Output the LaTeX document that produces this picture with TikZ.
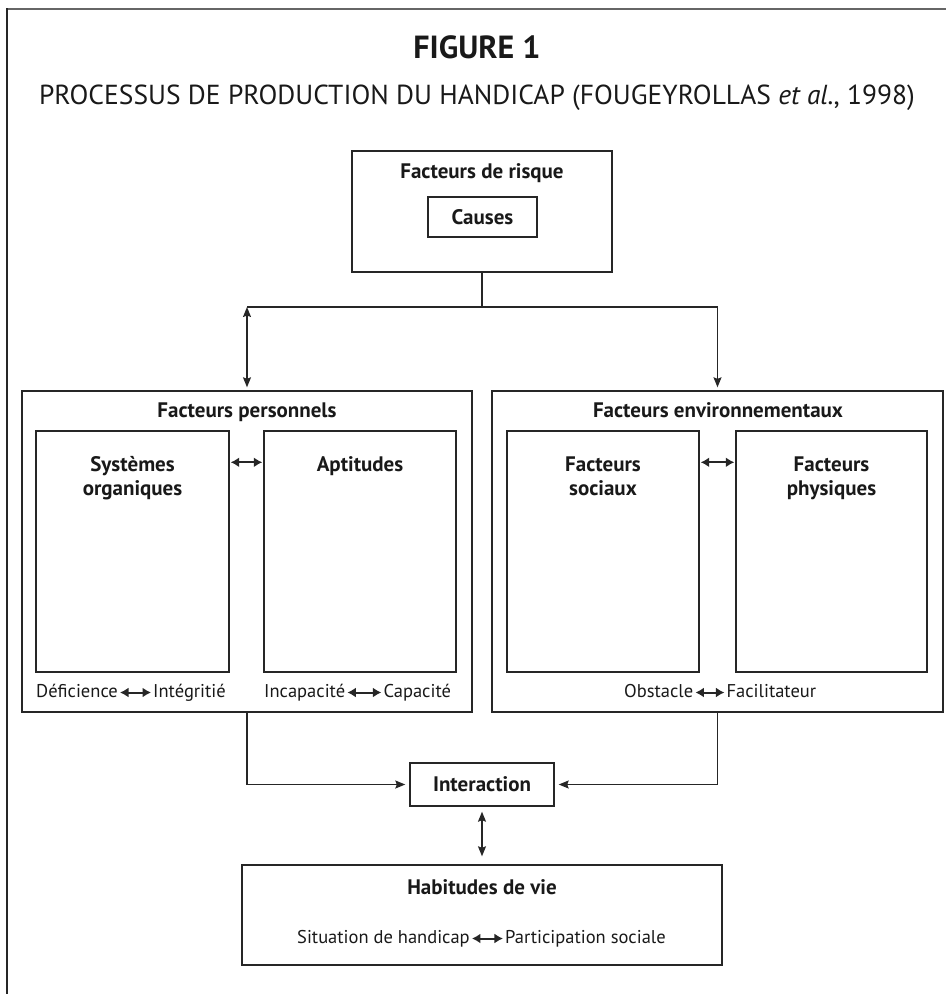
\documentclass[tikz,border=0pt]{standalone}
\usepackage{fontspec}
\setmainfont{PT Sans}
\usetikzlibrary{arrows.meta, positioning, calc}

\begin{document}
\begin{tikzpicture}[x=1pt, y=-1pt,
    box/.style={draw=black!85, line width=1.4pt, inner sep=0pt},
    titre/.style={font=\bfseries\fontsize{21}{24}\selectfont, text=black!90, align=center, inner sep=0pt},
    etiq/.style={font=\fontsize{18.5}{20}\selectfont, text=black!90, inner sep=0pt, text height=12pt, text depth=3pt},
    lien/.style={draw=black!85, line width=1.3pt},
    fl/.style={lien, -{Stealth[length=10pt, width=8pt, inset=1.5pt]}},
    dbl/.style={lien, {Stealth[length=10pt, width=8pt, inset=1.5pt]}-{Stealth[length=10pt, width=8pt, inset=1.5pt]}},
    petit/.style={lien, line width=2pt, {Latex[length=8.5pt, width=10pt]}-{Latex[length=8.5pt, width=10pt]}, shorten <=2pt, shorten >=2pt}
  ]
  \useasboundingbox (0,0) rectangle (946,994);
  \draw[line width=2.6pt, black!60] (7,9) -- (946,9);
  \draw[line width=2pt, black!85] (7,8) -- (7,994);

  \node[anchor=base, font=\bfseries\fontsize{32}{36}\selectfont, text=black!90] (figure) at (477,58) {FIGURE 1};
  \node[anchor=base, font=\fontsize{27.5}{30}\selectfont, text=black!90] (soustitre) at (477,104)
    {PROCESSUS DE PRODUCTION DU HANDICAP (FOUGEYROLLAS \textit{et al.}, 1998)};

  \node[box, minimum width=260pt, minimum height=121pt] (risque) at (482,211.5) {};
  \node[titre, anchor=base] (risque-t) at (482,178) {Facteurs de risque};
  \node[box, titre, minimum width=109pt, minimum height=40pt] (causes) at (482.5,217) {Causes};

  \node[box, minimum width=450pt, minimum height=321pt] (perso) at (247,551.5) {};
  \node[box, minimum width=451pt, minimum height=321pt] (envir) at (717.5,551.5) {};
  \node[titre, anchor=base] (perso-t) at (247,417) {Facteurs personnels};
  \node[titre, anchor=base] (envir-t) at (718,417) {Facteurs environnementaux};

  \node[box, minimum width=193pt, minimum height=241pt] (systemes) at (132.5,551.5) {};
  \node[box, minimum width=192pt, minimum height=241pt] (aptitudes) at (360,551.5) {};
  \node[box, minimum width=192pt, minimum height=241pt] (sociaux) at (603,551.5) {};
  \node[box, minimum width=191pt, minimum height=241pt] (physiques) at (831.5,551.5) {};
  \node[titre, anchor=base] (systemes-t) at (132.5,495) {Systèmes\\organiques};
  \node[titre, anchor=base] (aptitudes-t) at (360,471) {Aptitudes};
  \node[titre, anchor=base] (sociaux-t) at (603,495) {Facteurs\\sociaux};
  \node[titre, anchor=base] (physiques-t) at (831.5,495) {Facteurs\\physiques};

  \node[etiq, anchor=base west] (deficience) at (36,697) {Déficience};
  \node[etiq, right=35pt of deficience] (integrite) {Intégritié};
  \node[etiq, anchor=base west] (incapacite) at (264,697) {Incapacité};
  \node[etiq, right=38pt of incapacite] (capacite) {Capacité};
  \node[etiq, anchor=base west] (obstacle) at (624,697) {Obstacle};
  \node[etiq, right=33pt of obstacle] (facilitateur) {Facilitateur};

  \node[box, titre, minimum width=144pt, minimum height=43pt] (interaction) at (482,784.5) {Interaction};
  \node[box, minimum width=480pt, minimum height=100pt] (habitudes) at (482,915) {};
  \node[titre, anchor=base] (habitudes-t) at (482,894) {Habitudes de vie};
  \node[etiq, anchor=base west] (situation) at (297,943) {Situation de handicap};
  \node[etiq, right=35pt of situation] (participation) {Participation sociale};

  \coordinate (noeud) at (482,307);
  \draw[lien] (risque.south) -- (noeud);
  \draw[lien] (perso.north |- noeud) -- (envir.north |- noeud);
  \draw[dbl, shorten >=3pt] (perso.north |- noeud) -- (perso.north);
  \draw[fl, shorten >=3pt] (envir.north |- noeud) -- (envir.north);

  \draw[petit, shorten <=1pt, shorten >=1pt] ($(systemes.north east)+(0,32)$) -- ($(aptitudes.north west)+(0,32)$);
  \draw[petit, shorten <=1pt, shorten >=1pt] ($(sociaux.north east)+(0,32)$) -- ($(physiques.north west)+(0,32)$);
  \draw[petit] (deficience) -- (integrite);
  \draw[petit] (incapacite) -- (capacite);
  \draw[petit] (obstacle) -- (facilitateur);
  \draw[petit] (situation) -- (participation);

  \draw[fl, shorten >=4pt] (perso.south) |- (interaction.west);
  \draw[fl, shorten >=4pt] (envir.south) |- (interaction.east);
  \draw[dbl, shorten <=5pt, shorten >=8pt] (interaction) -- (habitudes);
\end{tikzpicture}
\end{document}
